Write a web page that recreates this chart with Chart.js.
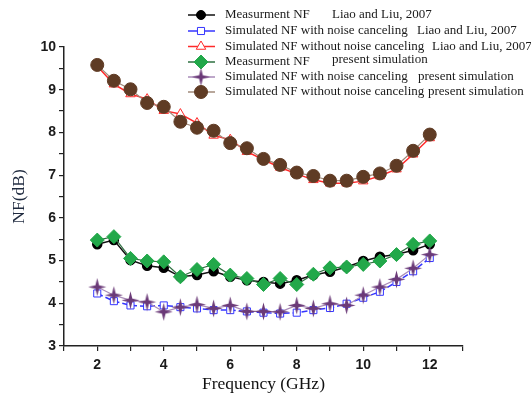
<!DOCTYPE html>
<html>
<head>
<meta charset="utf-8">
<script src="https://cdn.jsdelivr.net/npm/chart.js@4/dist/chart.umd.min.js"></script>
<style>
  body { margin: 0; background: #fff; }
  canvas { display: block; }
</style>
</head>
<body>
<canvas id="c" width="531" height="398"></canvas>
<script>
// frequency points (GHz)
const freq = [2, 2.5, 3, 3.5, 4, 4.5, 5, 5.5, 6, 6.5, 7, 7.5, 8, 8.5, 9, 9.5, 10, 10.5, 11, 11.5, 12];

// Liao and Liu, 2007
const measLiao = [5.38, 5.48, 5.01, 4.88, 4.83, 4.62, 4.66, 4.75, 4.62, 4.54, 4.50, 4.46, 4.54, 4.66, 4.74, 4.85, 4.99, 5.09, 5.14, 5.24, 5.38];
const withNcLiao = [4.23, 4.05, 3.95, 3.93, 3.95, 3.91, 3.88, 3.84, 3.84, 3.81, 3.78, 3.76, 3.78, 3.84, 3.89, 3.99, 4.13, 4.27, 4.50, 4.75, 5.06];
const withoutNcLiao = [9.55, 9.13, 8.90, 8.78, 8.51, 8.43, 8.22, 7.93, 7.83, 7.55, 7.36, 7.18, 7.03, 6.89, 6.81, 6.81, 6.86, 6.98, 7.14, 7.49, 7.87];

// present simulation
const measPresent = [5.48, 5.56, 5.05, 4.99, 4.97, 4.62, 4.79, 4.91, 4.66, 4.58, 4.44, 4.58, 4.44, 4.68, 4.83, 4.85, 4.91, 4.99, 5.14, 5.38, 5.46];
const withNcPresent = [4.38, 4.19, 4.07, 4.03, 3.80, 3.91, 3.97, 3.88, 3.95, 3.81, 3.81, 3.80, 3.95, 3.88, 3.99, 3.95, 4.19, 4.38, 4.56, 4.82, 5.14];
const withoutNcPresent = [9.58, 9.21, 9.01, 8.69, 8.60, 8.25, 8.11, 8.04, 7.75, 7.63, 7.38, 7.24, 7.06, 6.98, 6.87, 6.87, 6.96, 7.04, 7.22, 7.57, 7.95];

const seriesNames = [
  'Measurment NF',
  'Simulated NF with noise canceling',
  'Simulated NF without noise canceling',
  'Measurment NF',
  'Simulated NF with noise canceling',
  'Simulated NF without noise canceling'
];
const seriesSources = [
  'Liao and Liu, 2007',
  'Liao and Liu, 2007',
  'Liao and Liu, 2007',
  'present simulation',
  'present simulation',
  'present simulation'
];

const xTicks = [2, 4, 6, 8, 10, 12];

function pts(vals) {
  return vals.map((v, i) => ({ x: freq[i], y: v }));
}

// 4-point star marker for the purple series
function makeStar(color) {
  const s = 19, c = s / 2, r = 9, ri = 2.6;
  const cv = document.createElement('canvas');
  cv.width = s; cv.height = s;
  const g = cv.getContext('2d');
  g.fillStyle = color;
  g.beginPath();
  for (let k = 0; k < 8; k++) {
    const a = -Math.PI / 2 + k * Math.PI / 4;
    const rr = k % 2 === 0 ? r : ri;
    const px = c + rr * Math.cos(a), py = c + rr * Math.sin(a);
    if (k === 0) g.moveTo(px, py); else g.lineTo(px, py);
  }
  g.closePath();
  g.fill();
  return cv;
}

const star = makeStar('#6b3a78');

const datasets = [
  { data: pts(measLiao), borderColor: '#111', borderWidth: 1.5,
    pointStyle: 'circle', pointRadius: 4.5, pointBackgroundColor: '#000', pointBorderColor: '#000', order: 6 },
  { data: pts(withNcLiao), borderColor: '#3535ff', borderWidth: 1.5, borderDash: [6, 3],
    pointStyle: 'rect', pointRadius: 5, pointBackgroundColor: '#fff', pointBorderColor: '#3535ff', pointBorderWidth: 1, order: 5 },
  { data: pts(withoutNcLiao), borderColor: '#ff2a2a', borderWidth: 1.5,
    pointStyle: 'triangle', pointRadius: 5.5, pointBackgroundColor: '#fff', pointBorderColor: '#ff2a2a', pointBorderWidth: 1, order: 4 },
  { data: pts(measPresent), borderColor: '#2e7040', borderWidth: 1.2,
    pointStyle: 'rectRot', pointRadius: 7, pointBackgroundColor: '#22a84a', pointBorderColor: '#22a84a', pointBorderWidth: 1, order: 3 },
  { data: pts(withNcPresent), borderColor: '#a98bb8', borderWidth: 1.2,
    pointStyle: star, pointRadius: 9, pointBackgroundColor: '#6b3a78', pointBorderColor: '#6b3a78', order: 2 },
  { data: pts(withoutNcPresent), borderColor: '#a08a7a', borderWidth: 1.2,
    pointStyle: 'circle', pointRadius: 6.5, pointBackgroundColor: '#5f3b24', pointBorderColor: '#5f3b24', pointBorderWidth: 1, order: 1 }
];
datasets.forEach((d, i) => { d.label = seriesNames[i]; d.tension = 0; d.fill = false; });

// legend drawn at the top right, two text columns
const legendRows = [15, 31, 46.5, 62, 77, 92];
const legendSourceX = [332, 417, 432, 332, 418, 428];

const legendPlugin = {
  id: 'figLegend',
  afterDraw(chart) {
    const ctx = chart.ctx;
    ctx.save();
    datasets.forEach((d, i) => {
      const y = legendRows[i];
      ctx.strokeStyle = d.borderColor;
      ctx.lineWidth = 1.5;
      ctx.setLineDash([]);
      ctx.beginPath();
      ctx.moveTo(188, y);
      ctx.lineTo(215, y);
      ctx.stroke();
      ctx.fillStyle = d.pointBackgroundColor;
      ctx.strokeStyle = d.pointBorderColor;
      ctx.lineWidth = d.pointBorderWidth || 1;
      Chart.helpers.drawPoint(ctx, { pointStyle: d.pointStyle, radius: d.pointRadius, rotation: 0, borderWidth: d.pointBorderWidth || 1 }, 201, y);

      ctx.fillStyle = '#1a1a1a';
      ctx.font = '13px "Liberation Serif", "Times New Roman", serif';
      ctx.textBaseline = 'middle';
      ctx.textAlign = 'left';
      ctx.fillText(seriesNames[i], 225, y);
      ctx.fillText(seriesSources[i], legendSourceX[i], i === 3 ? y - 2 : y);
    });
    ctx.restore();
  }
};

const tickFont = { family: '"Liberation Sans", Arial, sans-serif', size: 14, weight: 'bold' };
const titleFont = { family: '"Liberation Serif", "Times New Roman", serif', size: 17.5 };

new Chart(document.getElementById('c'), {
  type: 'line',
  data: { datasets: datasets },
  plugins: [legendPlugin],
  options: {
    responsive: false,
    animation: false,
    devicePixelRatio: 1,
    layout: { padding: { top: 47, right: 68, left: 0, bottom: 0 } },
    plugins: { legend: { display: false }, tooltip: { enabled: false } },
    scales: {
      x: {
        type: 'linear', min: 1, max: 13,
        afterFit: function (scale) { scale.height = 52; },
        ticks: {
          stepSize: 1, autoSkip: false, maxRotation: 0, padding: 6,
          color: '#1a1a1a', font: tickFont,
          callback: function (v) { return xTicks.includes(v) ? String(v) : ''; }
        },
        grid: { drawOnChartArea: false, tickLength: 5, color: '#222', lineWidth: 1.2 },
        border: { color: '#222', width: 1.5 },
        title: { display: true, text: 'Frequency (GHz)', color: '#111', font: titleFont, padding: { top: 0, bottom: 3 } }
      },
      y: {
        min: 3, max: 10,
        afterFit: function (scale) { scale.width = 64; },
        ticks: {
          stepSize: 0.5, autoSkip: false, padding: 3,
          color: '#1a1a1a', font: tickFont,
          callback: function (v) { return Number.isInteger(v) ? String(v) : ''; }
        },
        grid: { drawOnChartArea: false, tickLength: 5, color: '#222', lineWidth: 1.2 },
        border: { color: '#222', width: 1.5 },
        title: { display: true, text: 'NF(dB)', color: '#1f2a3f', font: titleFont, padding: { top: 9, bottom: 0 } }
      }
    }
  }
});
</script>
</body>
</html>
